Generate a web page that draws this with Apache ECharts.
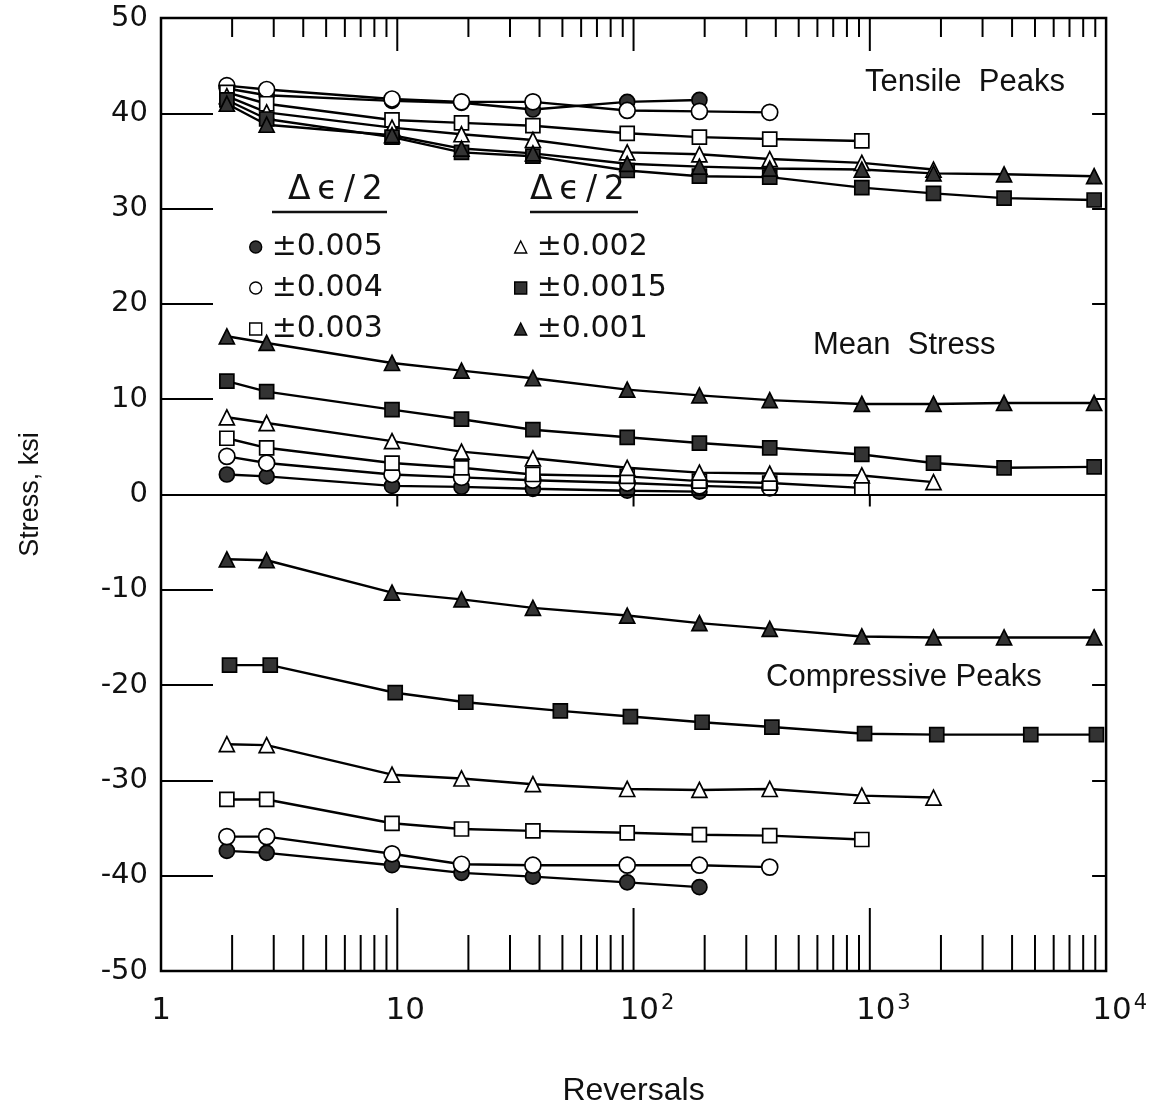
<!DOCTYPE html>
<html>
<head>
<meta charset="utf-8">
<script src="https://cdn.jsdelivr.net/npm/echarts@6/dist/echarts.min.js"></script>
<style>
  html, body { margin: 0; padding: 0; background: #fff; }
  #chart { width: 1150px; height: 1114px; }
</style>
</head>
<body>
<div id="chart"></div>
<script>
// Reversal counts at which the peaks were recorded
const reversals = [1.9, 2.8, 9.5, 18.7, 37.5, 94, 190, 377, 925, 1860, 3700, 8900];
const reversalsComp0015 = [1.95, 2.9, 9.8, 19.5, 49, 97, 195, 385, 950, 1920, 4800, 9100];

// Strain amplitudes (legend labels)
const amplitudes = ['±0.005', '±0.004', '±0.003', '±0.002', '±0.0015', '±0.001'];

// Tensile peak stress, ksi
const tensile005 = [42.6, 41.9, 41.3, 41.1, 40.4, 41.2, 41.4];
const tensile004 = [42.9, 42.5, 41.5, 41.2, 41.2, 40.3, 40.2, 40.1];
const tensile003 = [42.2, 41.0, 39.3, 39.0, 38.7, 37.9, 37.5, 37.3, 37.1];
const tensile002 = [41.8, 40.1, 38.5, 37.8, 37.2, 35.9, 35.7, 35.2, 34.8, 34.1];
const tensile0015 = [41.4, 39.4, 37.5, 35.9, 35.5, 34.0, 33.4, 33.3, 32.2, 31.6, 31.1, 30.9];
const tensile001 = [41.0, 38.8, 37.7, 36.3, 35.8, 34.7, 34.4, 34.2, 34.1, 33.7, 33.6, 33.4];

// Mean stress, ksi
const mean005 = [2.1, 1.9, 0.9, 0.8, 0.6, 0.4, 0.3];
const mean004 = [4.0, 3.3, 2.1, 1.8, 1.5, 1.2, 0.9, 0.7];
const mean003 = [5.9, 4.9, 3.3, 2.8, 2.1, 1.9, 1.4, 1.2, 0.7];
const mean002 = [8.1, 7.5, 5.6, 4.5, 3.8, 2.8, 2.3, 2.2, 2.0, 1.3];
const mean0015 = [11.9, 10.8, 8.9, 7.9, 6.8, 6.0, 5.4, 4.9, 4.2, 3.3, 2.8, 2.9];
const mean001 = [16.6, 15.9, 13.8, 13.0, 12.2, 11.0, 10.4, 9.9, 9.5, 9.5, 9.6, 9.6];

// Compressive peak stress, ksi
const comp005 = [-37.4, -37.6, -38.9, -39.7, -40.1, -40.7, -41.2];
const comp004 = [-35.9, -35.9, -37.7, -38.8, -38.9, -38.9, -38.9, -39.1];
const comp003 = [-32.0, -32.0, -34.5, -35.1, -35.3, -35.5, -35.7, -35.8, -36.2];
const comp002 = [-26.2, -26.3, -29.4, -29.8, -30.4, -30.9, -31.0, -30.9, -31.6, -31.8];
const comp0015 = [-17.9, -17.9, -20.8, -21.8, -22.7, -23.3, -23.9, -24.4, -25.1, -25.2, -25.2, -25.2];
const comp001 = [-6.8, -6.9, -10.3, -11.0, -11.9, -12.7, -13.5, -14.1, -14.9, -15.0, -15.0, -15.0];

// Log-axis tick positions (decades and intermediate multiples)
const decadeTicks = [10, 100, 1000];
const minorTicks = [2, 3, 4, 5, 6, 7, 8, 9, 20, 30, 40, 50, 60, 70, 80, 90,
  200, 300, 400, 500, 600, 700, 800, 900, 2000, 3000, 4000, 5000, 6000, 7000, 8000, 9000];

const yTicks = { min: -50, max: 50, step: 10 };

const pair = (xs, ys) => ys.map((y, i) => [xs[i], y]);

// marker look for each amplitude
const markerStyle = {
  '±0.005':  { symbol: 'circle',   size: 15, fill: '#333' },
  '±0.004':  { symbol: 'circle',   size: 16, fill: '#fff' },
  '±0.003':  { symbol: 'rect',     size: 14, fill: '#fff' },
  '±0.002':  { symbol: 'triangle', size: 15, fill: '#fff' },
  '±0.0015': { symbol: 'rect',     size: 14, fill: '#333' },
  '±0.001':  { symbol: 'triangle', size: 15, fill: '#333' }
};

function curve(name, points) {
  const m = markerStyle[name];
  return {
    type: 'line',
    name: name,
    data: points,
    symbol: m.symbol,
    symbolSize: m.size,
    showAllSymbol: true,
    lineStyle: { color: '#000', width: 2.4 },
    itemStyle: { color: m.fill, borderColor: '#000', borderWidth: 1.7 },
    emphasis: { disabled: true },
    z: 3
  };
}

const groups = [
  [tensile005, tensile004, tensile003, tensile002, tensile0015, tensile001],
  [mean005, mean004, mean003, mean002, mean0015, mean001],
  [comp005, comp004, comp003, comp002, comp0015, comp001]
];

const series = [];
groups.forEach((grp, gi) => {
  grp.forEach((vals, i) => {
    const xs = (gi === 2 && i === 4) ? reversalsComp0015 : reversals;
    series.push(curve(amplitudes[i], pair(xs, vals)));
  });
});

// tick marks along the top and bottom frame, plus short ticks under the zero line
const tickData = decadeTicks.map(v => [v, 1]).concat(minorTicks.map(v => [v, 0]));
series.push({
  type: 'custom',
  name: 'ticks',
  data: tickData,
  encode: { x: 0, y: 1 },
  silent: true,
  clip: false,
  z: 2,
  renderItem: function (params, api) {
    const v = api.value(0);
    const major = api.value(1) === 1;
    const b = api.coord([v, yTicks.min]);
    const t = api.coord([v, yTicks.max]);
    const z = api.coord([v, 0]);
    const st = { stroke: '#000', lineWidth: 2 };
    const children = [
      { type: 'line', shape: { x1: b[0], y1: b[1], x2: b[0], y2: b[1] - (major ? 63 : 36) }, style: st },
      { type: 'line', shape: { x1: t[0], y1: t[1], x2: t[0], y2: t[1] + (major ? 33 : 19) }, style: st }
    ];
    if (major) {
      children.push({ type: 'line', shape: { x1: z[0], y1: z[1], x2: z[0], y2: z[1] + 12 }, style: st });
    }
    return { type: 'group', children: children };
  }
});

// zero-stress line across the plot
series[0].markLine = {
  silent: true,
  symbol: 'none',
  label: { show: false },
  lineStyle: { color: '#000', width: 2.2, type: 'solid' },
  data: [{ yAxis: 0 }]
};

function legendCol(names, left) {
  return {
    orient: 'vertical',
    left: left,
    top: 226,
    itemWidth: 12,
    itemHeight: 12,
    itemGap: 9,
    selectedMode: false,
    data: names.map(n => ({ name: n, icon: markerStyle[n].symbol })),
    itemStyle: { borderColor: '#000', borderWidth: 1.4 },
    textStyle: { fontFamily: 'DejaVu Sans', fontSize: 30, color: '#111', lineHeight: 32, padding: [0, 0, 0, 5] }
  };
}

const headerText = 'Δ\u2009ϵ\u2009/\u20092';

const chart = echarts.init(document.getElementById('chart'), null, { renderer: 'canvas' });
chart.setOption({
  animation: false,
  backgroundColor: '#fff',
  grid: { left: 161, top: 18, width: 946, height: 953, show: true, borderColor: '#000', borderWidth: 2.5, backgroundColor: 'transparent' },
  xAxis: {
    type: 'log',
    logBase: 10,
    min: 1,
    max: 10000,
    name: 'Reversals',
    nameLocation: 'middle',
    nameGap: 104,
    nameTextStyle: { fontFamily: 'Liberation Sans', fontSize: 32, color: '#111' },
    axisLine: { show: false },
    axisTick: { show: false },
    splitLine: { show: false },
    axisLabel: {
      margin: 22,
      color: '#111',
      formatter: function (v) {
        const p = Math.round(Math.log10(v));
        if (p === 0) return '{n|1}';
        if (p === 1) return '{d|10}';
        return '{e|10}{s|' + p + '}';
      },
      rich: {
        n: { fontFamily: 'DejaVu Sans', fontSize: 31, lineHeight: 36 },
        d: { fontFamily: 'DejaVu Sans', fontSize: 31, lineHeight: 36, padding: [0, 0, 0, 16] },
        e: { fontFamily: 'DejaVu Sans', fontSize: 31, lineHeight: 36, padding: [0, 0, 0, 27] },
        s: { fontFamily: 'DejaVu Sans', fontSize: 21, lineHeight: 21, verticalAlign: 'top', padding: [0, 0, 0, 2] }
      }
    }
  },
  yAxis: [
    {
      type: 'value',
      min: yTicks.min,
      max: yTicks.max,
      interval: yTicks.step,
      name: 'Stress, ksi',
      nameLocation: 'middle',
      nameGap: 117,
      nameRotate: 90,
      nameTextStyle: { fontFamily: 'Liberation Sans', fontSize: 27, color: '#111' },
      axisLine: { show: false },
      axisTick: { show: true, inside: true, length: 52, lineStyle: { color: '#000', width: 2 } },
      splitLine: { show: false },
      axisLabel: { margin: 13, fontFamily: 'DejaVu Sans', fontSize: 29, color: '#111' }
    },
    {
      type: 'value',
      position: 'right',
      min: yTicks.min,
      max: yTicks.max,
      interval: yTicks.step,
      axisLine: { show: false },
      axisTick: { show: true, inside: true, length: 14, lineStyle: { color: '#000', width: 2 } },
      splitLine: { show: false },
      axisLabel: { show: false }
    }
  ],
  legend: [
    legendCol(amplitudes.slice(0, 3), 244),
    legendCol(amplitudes.slice(3), 509)
  ],
  graphic: [
    { type: 'text', left: 288, top: 174, style: { text: headerText, fontFamily: 'DejaVu Sans', fontSize: 33, fill: '#111' } },
    { type: 'line', shape: { x1: 272, y1: 212, x2: 387, y2: 212 }, style: { stroke: '#111', lineWidth: 2.5 } },
    { type: 'text', left: 530, top: 174, style: { text: headerText, fontFamily: 'DejaVu Sans', fontSize: 33, fill: '#111' } },
    { type: 'line', shape: { x1: 530, y1: 212, x2: 638, y2: 212 }, style: { stroke: '#111', lineWidth: 2.5 } },
    { type: 'text', left: 865, top: 67, style: { text: 'Tensile  Peaks', fontFamily: 'Liberation Sans', fontSize: 31, fill: '#111' } },
    { type: 'text', left: 813, top: 330, style: { text: 'Mean  Stress', fontFamily: 'Liberation Sans', fontSize: 31, fill: '#111' } },
    { type: 'text', left: 766, top: 662, style: { text: 'Compressive Peaks', fontFamily: 'Liberation Sans', fontSize: 31, fill: '#111' } }
  ],
  series: series
});
</script>
</body>
</html>
